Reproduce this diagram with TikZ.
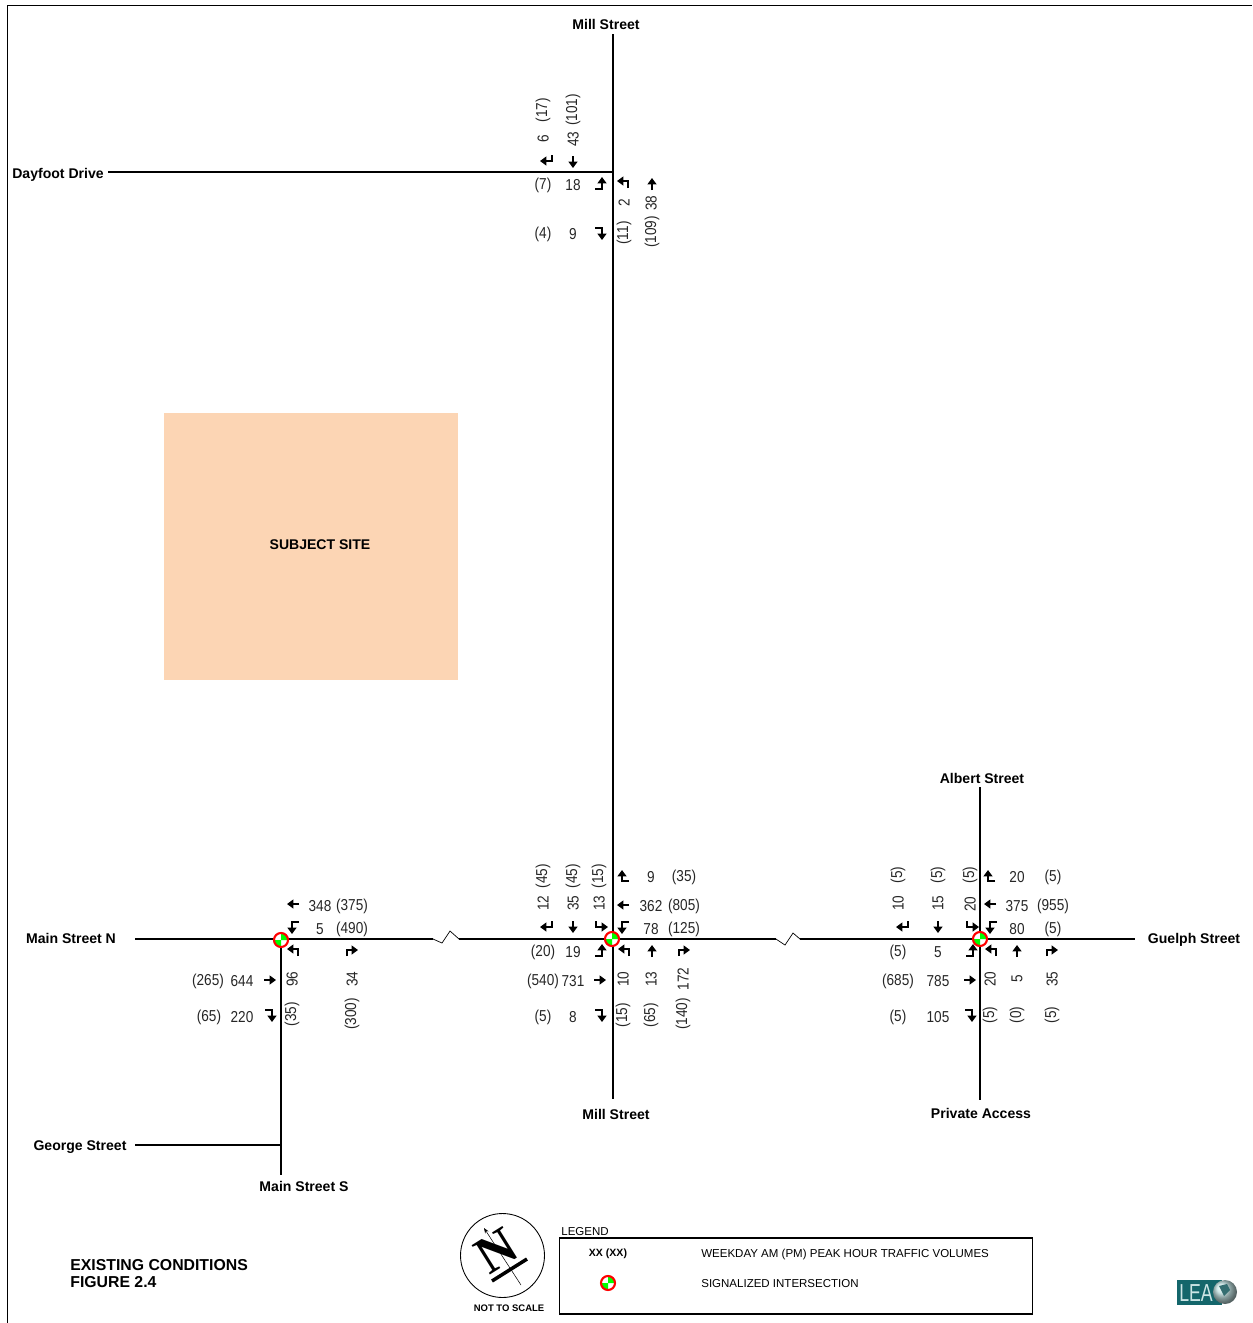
\documentclass[tikz,border=0pt]{standalone}
\usepackage{fontspec}
\setmainfont{Liberation Sans}
\newfontfamily\northfont{Liberation Serif}
\newfontfamily\volfont[FakeStretch=0.86]{Liberation Sans}
\newfontfamily\leafont[FakeStretch=0.72]{Liberation Sans}
\usetikzlibrary{arrows.meta}

\definecolor{sitefill}{RGB}{252,213,180}
\definecolor{leateal}{RGB}{20,102,107}

\tikzset{
    mv/.style={line width=1.2pt,-{Triangle[length=3.6pt,width=5pt]}},
    nb/.pic={\draw[mv] (0,6) -- (0,-6);},
    sb/.pic={\draw[mv] (0,-6) -- (0,6);},
    eb/.pic={\draw[mv] (-6,0) -- (6,0);},
    wb/.pic={\draw[mv] (6,0) -- (-6,0);},
    sbr/.pic={\draw[mv] (6,-6) -- (6,0) -- (-6,0);},
    sbl/.pic={\draw[mv] (-4,-6) -- (-4,0) -- (8,0);},
    nbl/.pic={\draw[mv] (5,4) -- (5,-3) -- (-6,-3);},
    nbr/.pic={\draw[mv] (-5,4) -- (-5,-2) -- (6,-2);},
    ebl/.pic={\draw[mv] (-5,5) -- (2,5) -- (2,-7);},
    ebr/.pic={\draw[mv] (-5,-5) -- (2,-5) -- (2,7);},
    wbl/.pic={\draw[mv] (6,-5) -- (-1,-5) -- (-1,7);},
    wbr/.pic={\draw[mv] (5,5) -- (-2,5) -- (-2,-6);},
    signal/.pic={
        \fill[white] (0,0) circle (7);
        \fill[green] (0,0) -- (-7,0) arc (180:90:7) -- cycle;
        \fill[green] (0,0) -- (7,0) arc (0:-90:7) -- cycle;
        \draw[red,line width=1.2pt] (0,0) circle (7);
    },
}

\begin{document}
\begin{tikzpicture}[x=0.02cm,y=-0.02cm,
    road/.style={line width=1.1pt},
    vol/.style={font=\volfont\fontsize{9}{10}\selectfont,text=black!85,inner sep=0pt},
    volr/.style={vol,rotate=90,yshift=0.5pt},
    street/.style={font=\fontsize{8}{9}\bfseries\selectfont,inner sep=0pt},
    plain/.style={font=\fontsize{6.55}{8}\selectfont,inner sep=0pt}]
    \useasboundingbox (0,0) rectangle (1252,1323);

    % frame and site
    \draw[line width=0.5pt] (7,1323) -- (7,5) -- (1252,5);
    \node[fill=sitefill,minimum width=5.88cm,minimum height=5.34cm,inner sep=0pt] (site) at (311,546.5) {};
    \node[street] (sitelabel) at (320,545) {SUBJECT SITE};

    % road ends
    \coordinate (millN) at (613,34);
    \coordinate (millS) at (613,1099);
    \coordinate (dayW) at (108,172);
    \coordinate (dayE) at (613,172);
    \coordinate (mainW) at (135,939);
    \coordinate (mainE) at (1135,939);
    \coordinate (albN) at (980,787);
    \coordinate (albS) at (980,1100);
    \coordinate (mainN) at (281,939);
    \coordinate (mainS) at (281,1175);
    \coordinate (geoW) at (135,1145);
    \coordinate (geoE) at (281,1145);
    \coordinate (brk1a) at (433,939);
    \coordinate (brk1b) at (459,939);
    \coordinate (brk2a) at (776,939);
    \coordinate (brk2b) at (800,939);

    \draw[road] (millN) -- (millS);
    \draw[road] (dayW) -- (dayE);
    \draw[road] (albN) -- (albS);
    \draw[road] (mainN) -- (mainS);
    \draw[road] (geoW) -- (geoE);
    \draw[road] (mainW) -- (brk1a);
    \draw[road] (brk1b) -- (brk2a);
    \draw[road] (brk2b) -- (mainE);
    \draw[line width=0.4pt] (brk1a) -- (442,943) -- (450,931) -- (brk1b);
    \draw[line width=0.4pt] (brk2a) -- (785,945) -- (793,933) -- (brk2b);

    % street names
    \node[street] (n1) at (606,24) {Mill Street};
    \node[street] (n2) at (58,175) {Dayfoot Drive};
    \node[street] (n3) at (982,778) {Albert Street};
    \node[street] (n4) at (71,938) {Main Street N};
    \node[street] (n5) at (1194,940) {Guelph Street};
    \node[street] (n6) at (616,1114) {Mill Street};
    \node[street] (n7) at (981,1113) {Private Access};
    \node[street] (n8) at (80,1147) {George Street};
    \node[street] (n9) at (304,1186) {Main Street S};

    % Dayfoot Drive
    \foreach \x/\y/\t in {544/110/(17),574/110/(101),544/139/6,574/139/43,625/203/2,652/203/38,625/233/(11),653/232/(109)}
        \node[volr] at (\x,\y) {\t};
    \foreach \x/\y/\t in {543/185/(7),573/185/18,543/234/(4),573/234/9}
        \node[vol] at (\x,\y) {\t};
    \foreach \x/\y/\a in {546/161/sbr,573/162/sb,600/184/ebl,623/184/nbl,652/184/nb,600/233/ebr}
        \pic at (\x,\y) {\a};

    % Mill Street
    \foreach \x/\y/\t in {544/876/(45),574/876/(45),600/876/(15),544/903/12,574/903/35,600/903/13,624/979/10,652/979/13,684/979/172,624/1015/(15),652/1015/(65),684/1014/(140)}
        \node[volr] at (\x,\y) {\t};
    \foreach \x/\y/\t in {651/877/9,684/877/(35),651/906/362,684/906/(805),651/929/78,684/929/(125),543/952/(20),573/952/19,543/981/(540),573/981/731,543/1017/(5),573/1017/8}
        \node[vol] at (\x,\y) {\t};
    \foreach \x/\y/\a in {624/876/wbr,623/905/wb,546/927/sbr,573/927/sb,600/927/sbl,623/927/wbl,600/951/ebl,624/952/nbl,652/951/nb,684/952/nbr,600/980/eb,600/1015/ebr}
        \pic at (\x,\y) {\a};

    % Albert Street
    \foreach \x/\y/\t in {899/875/(5),939/875/(5),971/875/(5),899/903/10,939/903/15,971/904/20,991/979/20,1018/979/5,1053/979/35,991/1015/(5),1018/1015/(0),1053/1015/(5)}
        \node[volr] at (\x,\y) {\t};
    \foreach \x/\y/\t in {1017/877/20,1053/877/(5),1017/906/375,1053/906/(955),1017/929/80,1053/929/(5),898/952/(5),938/952/5,898/981/(685),938/981/785,898/1017/(5),938/1017/105}
        \node[vol] at (\x,\y) {\t};
    \foreach \x/\y/\a in {990/876/wbr,990/904/wb,902/927/sbr,938/927/sb,971/927/sbl,991/927/wbl,971/951/ebl,991/952/nbl,1017/951/nb,1052/952/nbr,970/980/eb,970/1015/ebr}
        \pic at (\x,\y) {\a};

    % Main Street S
    \foreach \x/\y/\t in {293/979/96,353/979/34,293/1014/(35),353/1014/(300)}
        \node[volr] at (\x,\y) {\t};
    \foreach \x/\y/\t in {320/906/348,352/906/(375),320/929/5,352/929/(490),208/981/(265),242/981/644,209/1017/(65),242/1017/220}
        \node[vol] at (\x,\y) {\t};
    \foreach \x/\y/\a in {293/904/wb,293/927/wbl,293/952/nbl,352/952/nbr,270/980/eb,270/1015/ebr}
        \pic at (\x,\y) {\a};

    % signals
    \pic at (281,940) {signal};
    \pic at (612,939) {signal};
    \pic at (980,939) {signal};

    % title
    \node[font=\fontsize{9}{10}\bfseries\selectfont,align=left,anchor=north west,inner sep=0pt] (title) at (70,1259) {EXISTING CONDITIONS\\FIGURE 2.4};

    % north arrow
    \node[draw,circle,line width=0.5pt,minimum size=1.68cm,inner sep=0pt] (rose) at (502.5,1255.5) {};
    \coordinate (ntail) at (521,1285);
    \coordinate (nhead) at (484,1228);
    \draw[line width=0.3pt,-{Stealth[length=3pt]}] (ntail) -- (nhead);
    \node[font=\northfont\fontsize{30}{30}\bfseries\selectfont,rotate=32,inner sep=0pt] (nletter) at (496,1251) {N};
    \coordinate (bar1) at (492,1281);
    \coordinate (bar2) at (527,1259);
    \draw[line width=2pt] (bar1) -- (bar2);
    \node[font=\fontsize{5.4}{6}\bfseries\selectfont,inner sep=0pt] (nts) at (509,1308) {NOT TO SCALE};

    % legend
    \node[plain,anchor=west] (leg) at (561,1231.5) {LEGEND};
    \node[draw,line width=0.6pt,minimum width=9.48cm,minimum height=1.52cm,inner sep=0pt] (legbox) at (796,1276) {};
    \node[font=\fontsize{6}{7}\bfseries\selectfont,inner sep=0pt] (xx) at (608,1254) {XX (XX)};
    \node[plain,anchor=west] (leg1) at (701,1255) {WEEKDAY AM (PM) PEAK HOUR TRAFFIC VOLUMES};
    \node[plain,anchor=west] (leg2) at (701,1283.5) {SIGNALIZED INTERSECTION};
    \pic at (608,1283) {signal};

    % logo
    \fill[leateal] (1177,1280) rectangle (1222,1305);
    \node[font=\leafont\fontsize{14}{14}\selectfont,text=teal!20!white,inner sep=0pt] (lea) at (1196,1293) {LEA};
    \shade[ball color=teal!25!white] (1225,1292) circle (12);
    \fill[leateal!70!gray] (1219,1286) -- (1227,1284) -- (1230,1290) -- (1224,1296) -- cycle;
\end{tikzpicture}
\end{document}
